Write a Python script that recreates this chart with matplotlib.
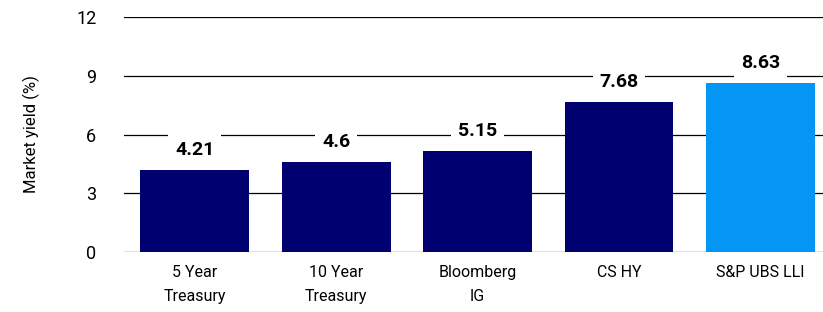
import numpy as np
import matplotlib.pyplot as plt

plt.rcParams['font.family'] = ['Roboto', 'DejaVu Sans']

# data
categories = ['5 Year\nTreasury', '10 Year\nTreasury', 'Bloomberg\nIG', 'CS HY', 'S&P UBS LLI']
yields = [4.21, 4.6, 5.15, 7.68, 8.63]
value_labels = ['4.21', '4.6', '5.15', '7.68', '8.63']
colors = ['#000070', '#000070', '#000070', '#000070', '#0596F5']

fig = plt.figure(figsize=(8.23, 3.12), dpi=100)
ax = fig.add_axes([0.151, 0.192, 0.849, 0.7535])

x = np.arange(len(categories))
ax.bar(x, yields, width=0.77, color=colors, zorder=3)

# value labels with white boxes that cut the gridlines
for xi, v, s in zip(x, yields, value_labels):
    ax.annotate(s, (xi, v), xytext=(0, 8), textcoords='offset points',
                ha='center', va='bottom', fontsize=14, fontweight='bold',
                bbox=dict(boxstyle='square,pad=0.35', fc='white', ec='none'),
                zorder=4)

ax.set_xlim(-0.498, 4.442)
ax.set_ylim(0, 12)
ax.set_yticks([0, 3, 6, 9, 12])
ax.set_xticks(x)
ax.set_xticklabels(categories, fontsize=11.5, linespacing=1.75)
ax.tick_params(axis='y', length=0, pad=20, labelsize=13)
ax.tick_params(axis='x', length=0, pad=9)
ax.yaxis.grid(True, color='black', linewidth=0.9, zorder=0)
ax.set_axisbelow(True)
for sp in ax.spines.values():
    sp.set_visible(False)
ax.set_ylabel('Market yield (%)', fontsize=12, labelpad=26)

plt.savefig('out.png', dpi=100)
